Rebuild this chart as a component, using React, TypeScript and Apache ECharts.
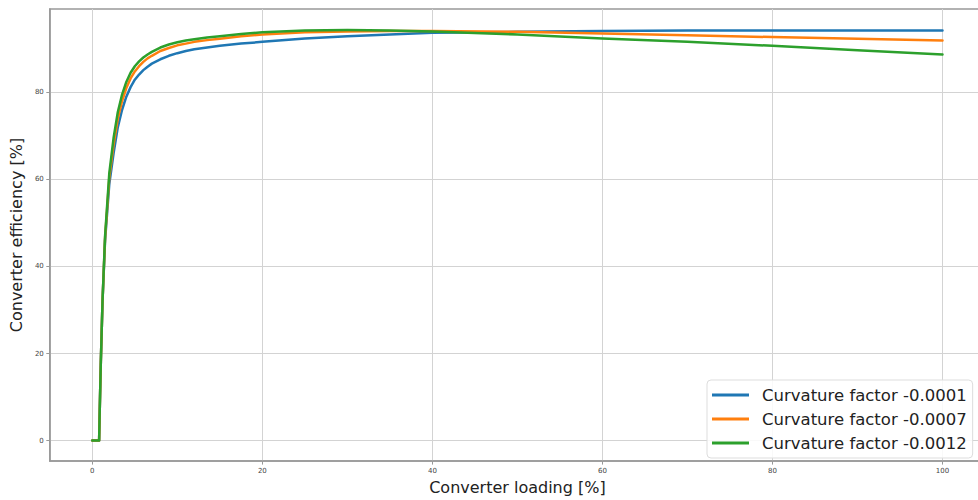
import React, { useEffect, useRef } from "react";
import * as echarts from "echarts";

const LOADING = [0, 0.8, 0.85, 1, 1.2, 1.5, 2, 2.5, 3, 3.5, 4, 4.5, 5, 5.5, 6, 6.5, 7, 8, 9, 10, 11, 12, 13.5, 15, 17.5, 20, 25, 30, 35, 40, 50, 60, 70, 80, 90, 100];
const EFF_0001 = [0, 0, 5, 18, 32, 46, 59, 66, 72, 76, 79, 81.2, 82.9, 84.1, 85.1, 85.9, 86.6, 87.6, 88.4, 89.0, 89.5, 89.9, 90.3, 90.7, 91.2, 91.6, 92.4, 92.9, 93.3, 93.7, 93.9, 94.1, 94.2, 94.2, 94.2, 94.2];
const EFF_0007 = [0, 0, 5, 18, 32, 46.5, 60.5, 68, 74, 78, 81, 83.2, 84.8, 86, 87, 87.8, 88.4, 89.5, 90.2, 90.8, 91.2, 91.6, 92.0, 92.3, 92.9, 93.3, 93.8, 94.0, 94.1, 94.1, 93.9, 93.5, 93.1, 92.7, 92.3, 91.9];
const EFF_0012 = [0, 0, 5, 18, 32, 47, 61.5, 69.5, 75.5, 79.5, 82.4, 84.5, 86, 87.1, 88.0, 88.7, 89.3, 90.3, 91.0, 91.5, 91.9, 92.2, 92.6, 92.9, 93.4, 93.8, 94.2, 94.3, 94.2, 94.0, 93.3, 92.4, 91.6, 90.7, 89.7, 88.7];

const SERIES_NAMES = ["Curvature factor -0.0001", "Curvature factor -0.0007", "Curvature factor -0.0012"];
const SERIES_VALUES = [EFF_0001, EFF_0007, EFF_0012];
const COLORS = ["#1f77b4", "#ff7f0e", "#2ca02c"];
const X_TICKS = [0, 20, 40, 60, 80, 100];
const Y_TICKS = [0, 20, 40, 60, 80];

const FONT = "DejaVu Sans";

export default function App() {
  const ref = useRef<HTMLDivElement>(null);
  useEffect(() => {
    if (!ref.current) return;
    const chart = echarts.init(ref.current, null, { renderer: "svg" });
    const axisCommon = {
      type: "value" as const,
      nameLocation: "middle" as const,
      nameTextStyle: { fontFamily: FONT, fontSize: 16, color: "#222" },
      axisLine: { show: true, onZero: false, lineStyle: { color: "#999", width: 1.5 } },
      axisTick: { show: true, length: 3.5, lineStyle: { color: "#999", width: 1 } },
      splitLine: { show: true, lineStyle: { color: "#d3d3d3", width: 1 } },
    };
    chart.setOption({
      animation: false,
      backgroundColor: "#ffffff",
      grid: {
        left: 49,
        top: 9,
        width: 936,
        height: 458,
        show: true,
        borderColor: "#999",
        borderWidth: 1.5,
        backgroundColor: "transparent",
      },
      xAxis: {
        ...axisCommon,
        min: -5,
        max: 105,
        name: "Converter loading [%]",
        nameGap: 16,
        axisTick: { ...axisCommon.axisTick, customValues: X_TICKS },
        axisLabel: { customValues: X_TICKS, fontFamily: FONT, fontSize: 7, color: "#444", margin: 6 },
      },
      yAxis: {
        ...axisCommon,
        min: -4.72,
        max: 99.15,
        name: "Converter efficiency [%]",
        nameGap: 22,
        axisTick: { ...axisCommon.axisTick, customValues: Y_TICKS },
        axisLabel: { customValues: Y_TICKS, fontFamily: FONT, fontSize: 7, color: "#444", margin: 6 },
      },
      legend: {
        orient: "vertical",
        left: 707,
        top: 380,
        padding: [6, 6, 6, 5],
        itemGap: 6,
        itemWidth: 37,
        itemHeight: 3,
        icon: "rect",
        backgroundColor: "rgba(255,255,255,0.85)",
        borderColor: "#dddddd",
        borderWidth: 1,
        borderRadius: 4,
        textStyle: { fontFamily: FONT, fontSize: 16.5, color: "#222", padding: [0, 0, 0, 8], lineHeight: 18 },
        data: SERIES_NAMES,
      },
      series: SERIES_NAMES.map((name, i) => ({
        name,
        type: "line",
        data: LOADING.map((x, j) => [x, SERIES_VALUES[i][j]]),
        showSymbol: false,
        symbol: "none",
        lineStyle: { color: COLORS[i], width: 2.5, join: "round", cap: "round" },
        itemStyle: { color: COLORS[i] },
        z: 2 + i,
      })),
    });
    return () => chart.dispose();
  }, []);
  return (
    <div style={{ position: "fixed", left: 0, top: 0, width: 978, height: 500, overflow: "hidden", background: "#fff" }}>
      <div ref={ref} style={{ width: 990, height: 500 }} />
    </div>
  );
}
